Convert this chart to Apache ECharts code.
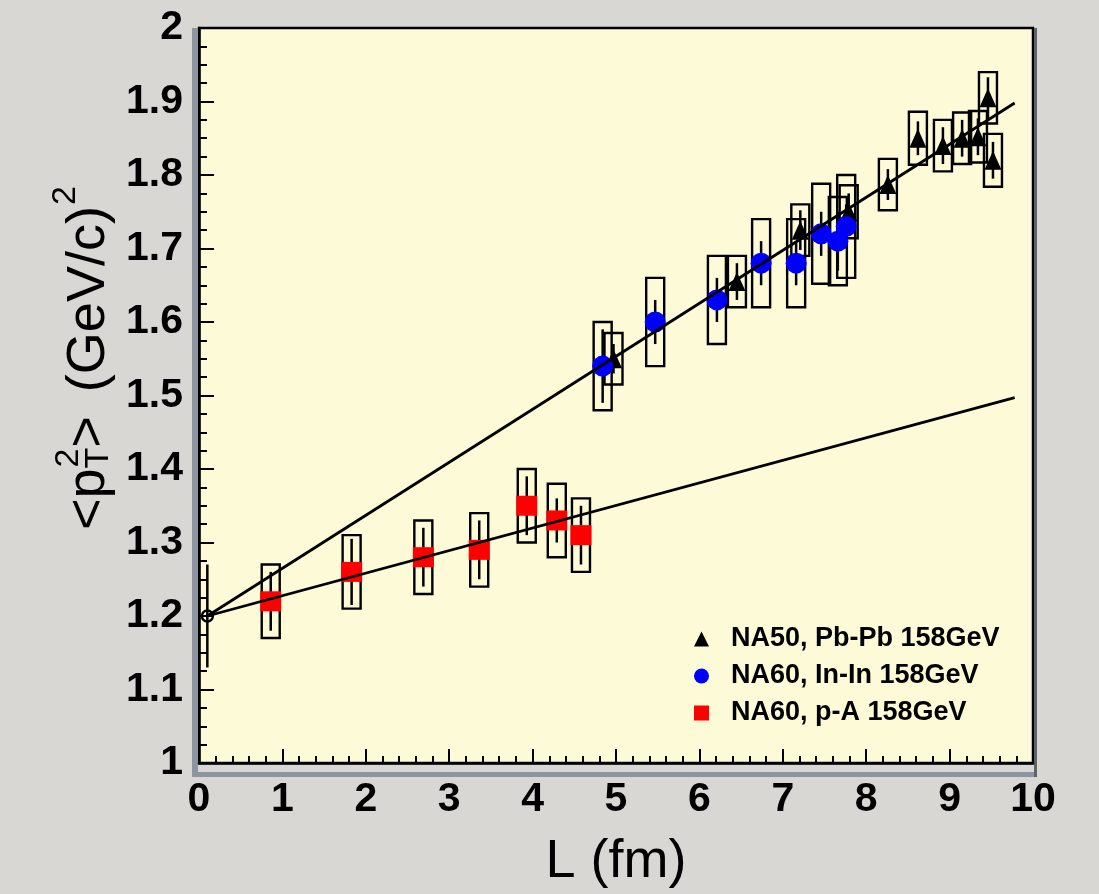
<!DOCTYPE html>
<html>
<head>
<meta charset="utf-8">
<script src="https://cdn.jsdelivr.net/npm/echarts/dist/echarts.min.js"></script>
<style>
  html, body { margin: 0; padding: 0; background: #d9d7d3; }
  #chart { width: 1099px; height: 894px; }
</style>
</head>
<body>
<div id="chart"></div>
<script>
// NA50 Pb-Pb 158 GeV: path length L (fm), <pT^2>, statistical and systematic errors
const pbL    = [4.97, 6.45, 7.21, 7.79, 8.26, 8.62, 8.92, 9.15, 9.34, 9.46, 9.52];
const pbPt2  = [1.55, 1.655, 1.725, 1.75, 1.787, 1.85, 1.84, 1.85, 1.852, 1.905, 1.82];
const pbStat = [0.02, 0.025, 0.027, 0.025, 0.021, 0.023, 0.025, 0.025, 0.025, 0.028, 0.025];
const pbSys  = [0.035, 0.035, 0.035, 0.036, 0.035, 0.036, 0.035, 0.035, 0.035, 0.035, 0.036];

// NA60 In-In 158 GeV
const inL    = [4.84, 5.47, 6.21, 6.74, 7.16, 7.46, 7.66, 7.76];
const inPt2  = [1.54, 1.60, 1.63, 1.68, 1.68, 1.72, 1.71, 1.73];
const inStat = [0.05, 0.03, 0.03, 0.03, 0.03, 0.03, 0.04, 0.03];
const inSys  = [0.06, 0.06, 0.06, 0.06, 0.06, 0.068, 0.06, 0.07];

// NA60 p-A 158 GeV
const paL    = [0.86, 1.83, 2.69, 3.36, 3.93, 4.29, 4.58];
const paPt2  = [1.22, 1.26, 1.28, 1.29, 1.35, 1.33, 1.31];
const paStat = [0.04, 0.045, 0.04, 0.04, 0.04, 0.03, 0.04];
const paSys  = [0.05, 0.05, 0.05, 0.05, 0.05, 0.05, 0.05];

// common pp reference point
const ppL    = [0.1];
const ppPt2  = [1.2];
const ppStat = [0.07];

// linear fits starting from the pp point
const fitL     = [0.1, 9.78];
const fitAA    = [1.2, 1.898];
const fitPA    = [1.2, 1.497];

const seriesNames = ['NA50, Pb-Pb 158GeV', 'NA60, In-In 158GeV', 'NA60, p-A 158GeV'];
const xTitle = 'L (fm)';

const FONT = '"Liberation Sans", Arial, Helvetica, sans-serif';

function rows(xs, ys, es) {
  return xs.map((x, i) => [x, ys[i], es ? es[i] : 0]);
}

// systematic error boxes
function boxSeries(xs, ys, es) {
  return {
    type: 'custom',
    z: 3,
    silent: true,
    renderItem: function (params, api) {
      const x = api.value(0), y = api.value(1), e = api.value(2);
      const top = api.coord([x, y + e]);
      const bot = api.coord([x, y - e]);
      return {
        type: 'rect',
        shape: { x: top[0] - 9, y: top[1], width: 18, height: bot[1] - top[1] },
        style: { fill: 'none', stroke: '#000', lineWidth: 2.4 }
      };
    },
    data: rows(xs, ys, es)
  };
}

// statistical error bars
function statSeries(xs, ys, es) {
  return {
    type: 'custom',
    z: 3,
    silent: true,
    renderItem: function (params, api) {
      const x = api.value(0), y = api.value(1), e = api.value(2);
      const top = api.coord([x, y + e]);
      const bot = api.coord([x, y - e]);
      return {
        type: 'line',
        shape: { x1: top[0], y1: top[1], x2: bot[0], y2: bot[1] },
        style: { stroke: '#000', lineWidth: 2.5 }
      };
    },
    data: rows(xs, ys, es)
  };
}

const chart = echarts.init(document.getElementById('chart'), null, { renderer: 'canvas' });

// measure text for the composed y-axis title
const ctx = document.createElement('canvas').getContext('2d');
function textW(s, size) {
  ctx.font = size + 'px ' + FONT;
  return ctx.measureText(s).width;
}
const BIG = 54, SMALL = 34;
const w1 = textW('<p', BIG);
const wT = textW('T', SMALL);
const w2 = textW('>', BIG);
const wGap = 24;
const w3 = textW('(GeV/c)', BIG);

const yTitle = {
  type: 'group',
  x: 89,
  y: 530,
  rotation: Math.PI / 2,
  children: [
    { type: 'text', x: 0, y: 0, style: { text: '<p', font: BIG + 'px ' + FONT, fill: '#000', verticalAlign: 'middle' } },
    { type: 'text', x: w1, y: 10, style: { text: 'T', font: SMALL + 'px ' + FONT, fill: '#000', verticalAlign: 'middle' } },
    { type: 'text', x: w1 + 1, y: -20, style: { text: '2', font: SMALL + 'px ' + FONT, fill: '#000', verticalAlign: 'middle' } },
    { type: 'text', x: w1 + wT, y: 0, style: { text: '>', font: BIG + 'px ' + FONT, fill: '#000', verticalAlign: 'middle' } },
    { type: 'text', x: w1 + wT + w2 + wGap, y: 0, style: { text: '(GeV/c)', font: BIG + 'px ' + FONT, fill: '#000', verticalAlign: 'middle' } },
    { type: 'text', x: w1 + wT + w2 + wGap + w3 + 1, y: -23, style: { text: '2', font: SMALL + 'px ' + FONT, fill: '#000', verticalAlign: 'middle' } }
  ]
};

const option = {
  backgroundColor: '#d9d7d3',
  animation: false,
  textStyle: { fontFamily: FONT },
  grid: {
    left: 199, top: 28, width: 834, height: 743,
    show: true, backgroundColor: '#fdfbd7',
    borderColor: '#000', borderWidth: 2.5
  },
  graphic: [
    // bevelled frame edges
    { type: 'rect', shape: { x: 192, y: 28, width: 6, height: 749 }, style: { fill: '#8c95a0' }, z: 0 },
    { type: 'rect', shape: { x: 192, y: 772, width: 845, height: 5 }, style: { fill: '#8c95a0' }, z: 0 },
    { type: 'rect', shape: { x: 1034, y: 28, width: 3, height: 749 }, style: { fill: '#5c636b' }, z: 0 },
    yTitle
  ],
  legend: {
    orient: 'vertical',
    left: 689,
    top: 620,
    itemWidth: 15,
    itemHeight: 15,
    itemGap: 9,
    data: seriesNames,
    selectedMode: false,
    textStyle: {
      fontFamily: FONT, fontWeight: 'bold', fontSize: 27, color: '#000',
      lineHeight: 28, padding: [0, 0, 0, 17]
    }
  },
  xAxis: {
    type: 'value',
    min: 0, max: 10, interval: 1,
    name: xTitle,
    nameLocation: 'middle',
    nameGap: 72,
    nameTextStyle: { fontFamily: FONT, fontSize: 54, color: '#000' },
    axisLine: { onZero: false, lineStyle: { color: '#000', width: 2.5 } },
    axisTick: { inside: true, length: 14, lineStyle: { color: '#000', width: 2 } },
    minorTick: { show: true, splitNumber: 5, length: 7, lineStyle: { color: '#000', width: 2 } },
    splitLine: { show: false },
    axisLabel: { fontFamily: FONT, fontWeight: 'bold', fontSize: 41, color: '#000', margin: 16 }
  },
  yAxis: {
    type: 'value',
    min: 1, max: 2, interval: 0.1,
    axisLine: { onZero: false, lineStyle: { color: '#000', width: 2.5 } },
    axisTick: { inside: true, length: 15, lineStyle: { color: '#000', width: 2 } },
    minorTick: { show: true, splitNumber: 4, length: 8, lineStyle: { color: '#000', width: 2 } },
    splitLine: { show: false },
    axisLabel: { fontFamily: FONT, fontWeight: 'bold', fontSize: 41, color: '#000', margin: 16 }
  },
  series: [
    boxSeries(pbL, pbPt2, pbSys),
    boxSeries(inL, inPt2, inSys),
    boxSeries(paL, paPt2, paSys),
    statSeries(pbL, pbPt2, pbStat),
    statSeries(inL, inPt2, inStat),
    statSeries(paL, paPt2, paStat),
    statSeries(ppL, ppPt2, ppStat),
    {
      name: seriesNames[0], type: 'scatter', z: 4,
      symbol: 'triangle', symbolSize: [17, 19],
      itemStyle: { color: '#000', opacity: 1 },
      data: rows(pbL, pbPt2).map(r => [r[0], r[1]])
    },
    {
      name: seriesNames[1], type: 'scatter', z: 4,
      symbol: 'circle', symbolSize: 21,
      itemStyle: { color: '#0000ff', opacity: 1 },
      data: rows(inL, inPt2).map(r => [r[0], r[1]])
    },
    {
      name: seriesNames[2], type: 'scatter', z: 4,
      symbol: 'rect', symbolSize: [21, 20],
      itemStyle: { color: '#ff0000', opacity: 1 },
      data: rows(paL, paPt2).map(r => [r[0], r[1]])
    },
    {
      type: 'scatter', z: 4,
      symbol: 'circle', symbolSize: 11,
      itemStyle: { color: 'rgba(0,0,0,0)', borderColor: '#000', borderWidth: 2.4, opacity: 1 },
      data: rows(ppL, ppPt2).map(r => [r[0], r[1]])
    },
    {
      type: 'line', z: 5, showSymbol: false, silent: true,
      lineStyle: { color: '#000', width: 2.8 },
      data: fitL.map((x, i) => [x, fitAA[i]])
    },
    {
      type: 'line', z: 5, showSymbol: false, silent: true,
      lineStyle: { color: '#000', width: 2.8 },
      data: fitL.map((x, i) => [x, fitPA[i]])
    }
  ]
};

chart.setOption(option);
</script>
</body>
</html>
